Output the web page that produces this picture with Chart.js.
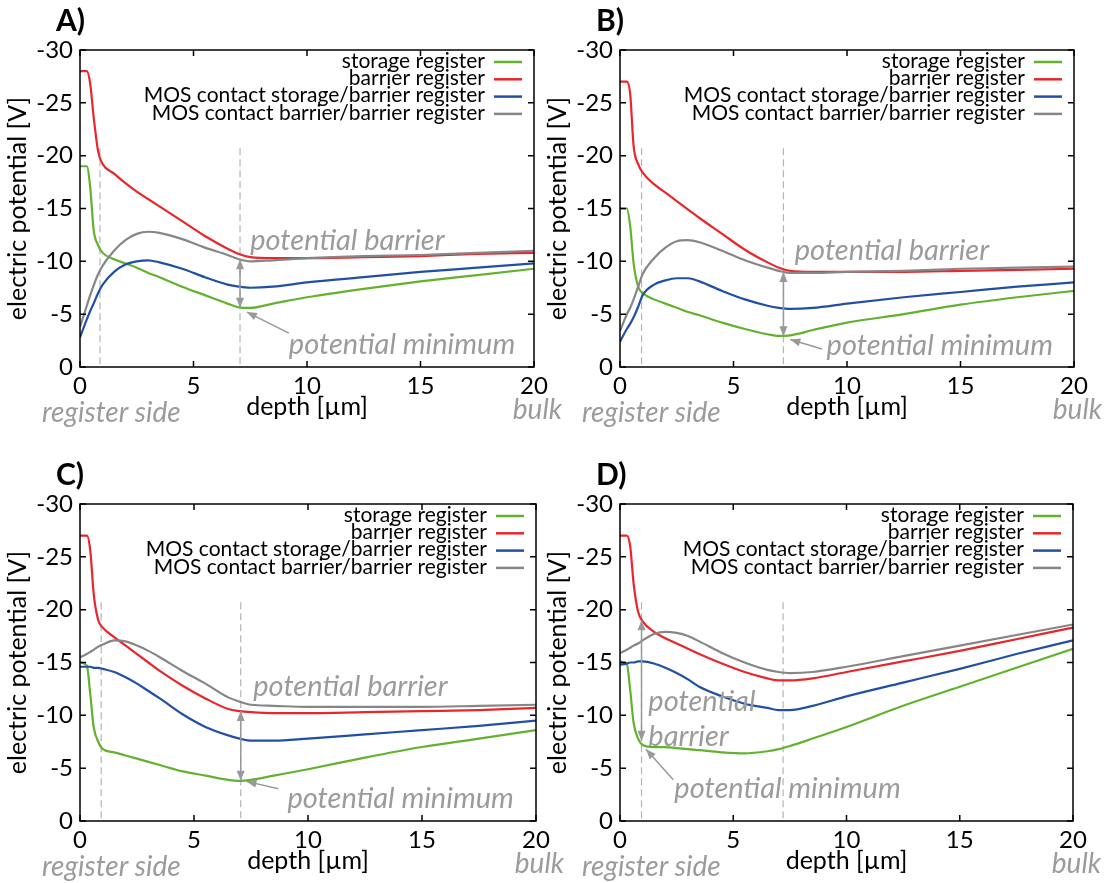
<!DOCTYPE html>
<html>
<head>
<meta charset="utf-8">
<script src="https://cdn.jsdelivr.net/npm/chart.js@4.4.1/dist/chart.umd.min.js"></script>
<style>
  html, body { margin: 0; background: #fff; width: 1108px; height: 883px; overflow: hidden; }
  .panel { position: absolute; width: 570px; height: 440px; }
</style>
</head>
<body>
<div class="panel" style="left:0px;top:0px"><canvas id="cA" width="570" height="440"></canvas></div>
<div class="panel" style="left:540px;top:0px"><canvas id="cB" width="568" height="440"></canvas></div>
<div class="panel" style="left:0px;top:454px"><canvas id="cC" width="570" height="440"></canvas></div>
<div class="panel" style="left:540px;top:454px"><canvas id="cD" width="568" height="440"></canvas></div>
<script>
// depth [um], shared by all curves
const depth = [0, 0.3, 0.45, 0.6, 0.8, 1, 1.5, 2, 2.5, 3, 3.5, 4.5, 5.5, 6.5, 7, 7.5, 8.5, 10, 12.5, 15, 17.5, 20];

const seriesNames = ['storage register', 'barrier register',
  'MOS contact storage/barrier register', 'MOS contact barrier/barrier register'];
const seriesColors = ['#62b22f', '#e8262b', '#2150a3', '#868686'];

// panel A
const storageA = [-19, -19, -17, -13, -11.5, -10.8, -10.2, -9.8, -9.4, -8.9, -8.5, -7.6, -6.8, -6.0, -5.65, -5.6, -6.0, -6.6, -7.4, -8.1, -8.7, -9.3];
const barrierA = [-28, -28, -26.8, -23.7, -20.4, -19.2, -18.3, -17.4, -16.6, -15.9, -15.2, -13.8, -12.4, -11.2, -10.7, -10.4, -10.3, -10.3, -10.4, -10.5, -10.7, -10.8];
const mosSBA = [-2.8, -4.5, -5.3, -6.0, -7.0, -7.8, -9.0, -9.7, -10.0, -10.1, -9.9, -9.3, -8.5, -7.8, -7.6, -7.5, -7.6, -8.0, -8.5, -9.0, -9.4, -9.8];
const mosBBA = [-3.8, -5.8, -6.8, -7.7, -8.8, -9.6, -11.0, -12.0, -12.6, -12.8, -12.7, -12.1, -11.3, -10.6, -10.2, -10.0, -10.1, -10.3, -10.5, -10.6, -10.8, -11.0];

// panel B
const storageB = [-15, -15, -13.3, -9.8, -7.6, -7.0, -6.4, -6.0, -5.6, -5.2, -4.9, -4.2, -3.6, -3.1, -2.95, -3.0, -3.5, -4.2, -5.0, -5.9, -6.6, -7.2];
const barrierB = [-27, -27, -25.8, -20.9, -19.2, -18.4, -17.3, -16.5, -15.7, -14.9, -14.1, -12.6, -11.1, -9.9, -9.4, -9.1, -9.0, -9.0, -9.0, -9.1, -9.2, -9.3];
const mosSBB = [-2.4, -3.6, -4.1, -4.7, -5.7, -6.8, -7.8, -8.2, -8.4, -8.4, -8.1, -7.2, -6.4, -5.8, -5.6, -5.5, -5.6, -6.0, -6.6, -7.1, -7.6, -8.0];
const mosBBB = [-3.4, -5.0, -5.6, -6.4, -7.6, -8.8, -10.3, -11.3, -11.9, -12.0, -11.8, -11.0, -10.1, -9.4, -9.1, -8.9, -8.9, -9.0, -9.1, -9.3, -9.4, -9.5];

// panel C
const storageC = [-15, -14.7, -12.0, -8.9, -7.5, -6.8, -6.5, -6.2, -5.9, -5.6, -5.3, -4.7, -4.3, -3.9, -3.8, -3.9, -4.3, -4.9, -6.0, -7.0, -7.8, -8.6];
const barrierC = [-27, -27, -25.6, -21.5, -19.0, -18.3, -17.4, -16.6, -15.8, -15.0, -14.2, -12.8, -11.6, -10.6, -10.4, -10.3, -10.2, -10.2, -10.3, -10.4, -10.5, -10.7];
const mosSBC = [-14.6, -14.6, -14.6, -14.5, -14.5, -14.4, -14.1, -13.6, -13.0, -12.3, -11.6, -10.1, -8.9, -8.1, -7.8, -7.6, -7.6, -7.8, -8.2, -8.6, -9.0, -9.5];
const mosBBC = [-15.5, -15.8, -16.0, -16.2, -16.5, -16.7, -17.1, -17.0, -16.6, -16.1, -15.5, -14.2, -13.0, -11.7, -11.3, -11.0, -10.9, -10.8, -10.8, -10.8, -10.9, -11.0];

// panel D
const storageD = [-15.1, -14.9, -12.4, -9.3, -7.8, -7.2, -7.0, -7.0, -6.9, -6.8, -6.7, -6.5, -6.4, -6.6, -6.8, -7.1, -7.8, -8.9, -10.9, -12.7, -14.5, -16.3];
const barrierD = [-27, -27, -26, -22.5, -19.8, -18.9, -17.9, -17.3, -16.8, -16.3, -15.8, -14.9, -14.1, -13.5, -13.3, -13.3, -13.5, -14.1, -15.1, -16.1, -17.2, -18.3];
const mosSBD = [-14.8, -14.9, -15.0, -15.0, -15.1, -15.1, -14.9, -14.5, -14.0, -13.4, -12.7, -11.8, -11.1, -10.7, -10.5, -10.5, -10.9, -11.8, -13.1, -14.4, -15.8, -17.1];
const mosBBD = [-15.9, -16.2, -16.4, -16.6, -16.8, -17.1, -17.7, -17.9, -17.8, -17.5, -17.0, -15.9, -15.0, -14.3, -14.1, -14.0, -14.1, -14.6, -15.6, -16.6, -17.6, -18.6];

const FONT = 'Lato, "Open Sans", sans-serif';
const GREY_TXT = '#9b9b9b';
Chart.defaults.color = '#000';
Chart.defaults.font.family = FONT;

// small helper for the grey arrows
function arrow(ctx, x1, y1, x2, y2, both) {
  const head = (fx, fy, tx, ty) => {
    const ang = Math.atan2(ty - fy, tx - fx);
    ctx.beginPath();
    ctx.moveTo(tx, ty);
    ctx.lineTo(tx - 10 * Math.cos(ang) + 4 * Math.sin(ang), ty - 10 * Math.sin(ang) - 4 * Math.cos(ang));
    ctx.lineTo(tx - 10 * Math.cos(ang) - 4 * Math.sin(ang), ty - 10 * Math.sin(ang) + 4 * Math.cos(ang));
    ctx.closePath();
    ctx.fill();
  };
  ctx.beginPath();
  ctx.moveTo(x1, y1);
  ctx.lineTo(x2, y2);
  ctx.stroke();
  head(x1, y1, x2, y2);
  if (both) head(x2, y2, x1, y1);
}

const annoPlugin = {
  id: 'anno',
  beforeDatasetsDraw(chart, args, opts) {
    const { ctx, scales: { x, y }, chartArea: a } = chart;
    ctx.save();
    ctx.strokeStyle = '#b4b4b4';
    ctx.lineWidth = 1.2;
    ctx.setLineDash([7, 4]);
    for (const d of opts.dash) {
      const px = x.getPixelForValue(d);
      ctx.beginPath();
      ctx.moveTo(px, y.getPixelForValue(-20.7));
      ctx.lineTo(px, a.bottom);
      ctx.stroke();
    }
    ctx.restore();
  },
  afterDatasetsDraw(chart, args, opts) {
    const { ctx, scales: { x, y } } = chart;
    ctx.save();
    ctx.strokeStyle = '#999';
    ctx.fillStyle = '#999';
    ctx.lineWidth = 1.5;
    for (const r of opts.arrows) {
      arrow(ctx, x.getPixelForValue(r[0]), y.getPixelForValue(r[1]),
        x.getPixelForValue(r[2]), y.getPixelForValue(r[3]), r[4]);
    }
    ctx.fillStyle = GREY_TXT;
    ctx.font = 'italic 29px ' + FONT;
    ctx.textBaseline = 'middle';
    ctx.textAlign = 'left';
    for (const t of opts.texts) {
      ctx.fillText(t[0], x.getPixelForValue(t[1]), y.getPixelForValue(t[2]));
    }
    ctx.restore();
  },
  afterDraw(chart, args, opts) {
    const { ctx, scales: { x, y }, chartArea: a } = chart;
    ctx.save();
    // frame + inward ticks on all four sides
    ctx.strokeStyle = '#000';
    ctx.lineWidth = 1.5;
    ctx.strokeRect(a.left, a.top, a.right - a.left, a.bottom - a.top);
    ctx.beginPath();
    for (const t of x.ticks) {
      const px = x.getPixelForValue(t.value);
      ctx.moveTo(px, a.bottom); ctx.lineTo(px, a.bottom - 6);
      ctx.moveTo(px, a.top); ctx.lineTo(px, a.top + 6);
    }
    for (const t of y.ticks) {
      const py = y.getPixelForValue(t.value);
      ctx.moveTo(a.left, py); ctx.lineTo(a.left + 6, py);
      ctx.moveTo(a.right, py); ctx.lineTo(a.right - 6, py);
    }
    ctx.stroke();

    // legend, top right inside the frame
    ctx.font = '21px ' + FONT;
    ctx.textAlign = 'right';
    ctx.textBaseline = 'middle';
    seriesNames.forEach((n, i) => {
      const ly = a.top + 11 + i * 17.3;
      ctx.fillStyle = '#000';
      ctx.fillText(n, a.right - 49, ly);
      ctx.strokeStyle = seriesColors[i];
      ctx.lineWidth = 2.5;
      ctx.beginPath();
      ctx.moveTo(a.right - 40, ly + 1);
      ctx.lineTo(a.right - 12, ly + 1);
      ctx.stroke();
    });

    // grey side labels below the axis
    ctx.fillStyle = GREY_TXT;
    ctx.font = 'italic 28px ' + FONT;
    ctx.textAlign = 'left';
    ctx.fillText('register side', a.left - 38, a.bottom + 46);
    ctx.textAlign = 'right';
    ctx.fillText('bulk', a.right + 28, a.bottom + 43);

    // panel letter
    ctx.fillStyle = '#000';
    ctx.font = 'bold 30px ' + FONT;
    ctx.textAlign = 'left';
    ctx.fillText(opts.label, a.left - 24, a.top - 29);
    ctx.restore();
  }
};

const panels = [
  { id: 'cA', rightPad: 36, series: [storageA, barrierA, mosSBA, mosBBA],
    anno: { label: 'A)', dash: [0.88, 7.05],
      arrows: [[7.05, -10.2, 7.05, -5.6, true], [9.2, -3.2, 7.35, -5.2, false]],
      texts: [['potential barrier', 7.5, -12.0], ['potential minimum', 9.2, -2.1]] } },
  { id: 'cB', rightPad: 34, series: [storageB, barrierB, mosSBB, mosBBB],
    anno: { label: 'B)', dash: [0.95, 7.2],
      arrows: [[7.2, -9.0, 7.2, -2.9, true], [8.9, -1.7, 7.5, -2.6, false]],
      texts: [['potential barrier', 7.7, -11.0], ['potential minimum', 9.1, -2.0]] } },
  { id: 'cC', rightPad: 34, series: [storageC, barrierC, mosSBC, mosBBC],
    anno: { label: 'C)', dash: [0.93, 7.05],
      arrows: [[7.05, -10.4, 7.05, -3.8, true], [8.7, -3.05, 7.3, -3.75, false]],
      texts: [['potential barrier', 7.6, -12.7], ['potential minimum', 9.1, -2.1]] } },
  { id: 'cD', rightPad: 35, series: [storageD, barrierD, mosSBD, mosBBD],
    anno: { label: 'D)', dash: [0.95, 7.2],
      arrows: [[0.95, -7.6, 0.95, -19.0, true], [2.35, -3.9, 1.15, -6.8, false]],
      texts: [['potential', 1.25, -11.3], ['barrier', 1.25, -8.0], ['potential minimum', 2.4, -3.1]] } }
];

for (const p of panels) {
  const datasets = p.series.map((vals, i) => ({
    label: seriesNames[i],
    data: depth.map((d, k) => ({ x: d, y: vals[k] })),
    borderColor: seriesColors[i],
    borderWidth: 2.2,
    pointRadius: 0,
    fill: false,
    cubicInterpolationMode: 'monotone',
    order: 3 - i
  }));

  new Chart(document.getElementById(p.id), {
    type: 'line',
    data: { datasets: datasets },
    plugins: [annoPlugin],
    options: {
      responsive: false,
      animation: false,
      layout: { padding: { top: 50, right: p.rightPad, left: 0, bottom: 0 } },
      plugins: {
        legend: { display: false },
        tooltip: { enabled: false },
        anno: p.anno
      },
      scales: {
        x: {
          type: 'linear',
          min: 0,
          max: 20,
          grid: { display: false, drawTicks: false },
          border: { display: false },
          ticks: { stepSize: 5, padding: 5, maxRotation: 0, font: { size: 24 } },
          title: { display: true, text: 'depth [µm]', font: { size: 25 }, padding: { top: 0, bottom: 18 } },
          afterFit: (s) => { s.height = 73; }
        },
        y: {
          min: -30,
          max: 0,
          reverse: true,
          grid: { display: false, drawTicks: false },
          border: { display: false },
          ticks: { stepSize: 5, padding: 7, font: { size: 24 } },
          title: { display: true, text: 'electric potential [V]', font: { size: 25 }, padding: { top: 3, bottom: 0 } },
          afterFit: (s) => { s.width = 80; }
        }
      }
    }
  });
}
</script>
</body>
</html>
